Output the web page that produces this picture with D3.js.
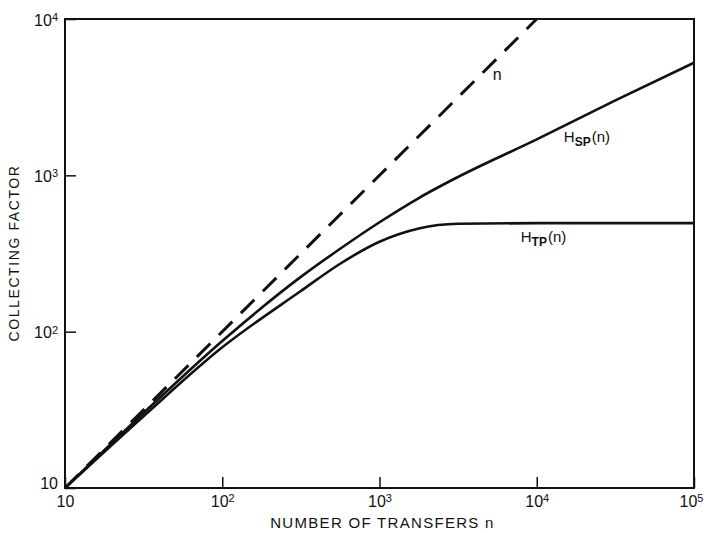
<!DOCTYPE html>
<style>
body { margin: 0; background-color: #FFFFFF; }
text { font-family: "Liberation Sans", Arial, sans-serif; fill: #111; }
</style>
<svg width="704" height="533"></svg>
<script src="https://d3js.org/d3.v7.min.js"></script>
<script>

// number of transfers (x) and the collecting factors
var transfers = [10, 31.6, 100, 316, 562, 1000, 1778, 3162, 10000, 31623, 100000];
var hSP = [10, 30.2, 87.1, 224, 339, 501, 716, 977, 1698, 3020, 5248];
var hTP = [10, 28.8, 79.4, 182, 272, 376, 457, 490, 495, 495, 495];
var nLine = [10, 10000];          // the diagonal y = n
var xTicks = [10, 100, 1000, 10000, 100000];
var yTicks = [10, 100, 1000, 10000];

var svg = d3.select("svg"),
    margin = {top: 19, right: 10, bottom: 45, left: 65},
    width = +svg.attr("width") - margin.left - margin.right,
    height = +svg.attr("height") - margin.top - margin.bottom,
    g = svg.append("g").attr("transform", "translate(" + margin.left + "," + margin.top + ")");

var x = d3.scaleLog().domain([10, 100000]).range([0, width]);
var y = d3.scaleLog().domain([10, 10000]).range([height, 0]);

// tick label "10" with a raised exponent
function powLabel(sel) {
  sel.each(function(d) {
    var t = d3.select(this).text(null);
    var e = Math.round(Math.log10(d));
    t.append("tspan").text("10");
    if (e > 1) t.append("tspan").attr("dy", "-0.42em").attr("font-size", "11px").text(e);
  });
}

g.append("clipPath").attr("id", "clip")
  .append("rect").attr("width", width).attr("height", height);

var xAxis = g.append("g")
    .attr("transform", "translate(0," + height + ")")
    .call(d3.axisBottom(x).tickValues(xTicks).tickSize(-11).tickPadding(7));
xAxis.select(".domain").remove();
xAxis.attr("font-size", null).attr("font-family", null);
xAxis.selectAll("line").attr("stroke", "#111").attr("stroke-width", 1.5);
xAxis.selectAll("text").attr("font-size", "16px").attr("dy", "0.72em")
    .attr("dx", function(d) { return d === 100000 ? -3 : 0; })
    .call(powLabel);

var yAxis = g.append("g")
    .call(d3.axisLeft(y).tickValues(yTicks).tickSize(-11).tickPadding(7));
yAxis.select(".domain").remove();
yAxis.attr("font-size", null).attr("font-family", null);
yAxis.selectAll("text").attr("font-size", "16px")
    .attr("dy", function(d) { return d === 10 ? "0.05em" : "0.38em"; })
    .call(powLabel);
yAxis.selectAll("line").attr("stroke", "#111").attr("stroke-width", 1.5);

// frame
g.append("rect")
    .attr("width", width).attr("height", height)
    .attr("fill", "none").attr("stroke", "#111").attr("stroke-width", 2);

var line = d3.line()
    .x(function(d) { return x(d[0]); })
    .y(function(d) { return y(d[1]); })
    .curve(d3.curveMonotoneX);

var curves = g.append("g").attr("clip-path", "url(#clip)");

curves.append("path")
    .datum(nLine.map(function(v) { return [v, v]; }))
    .attr("d", line)
    .attr("fill", "none").attr("stroke", "#111")
    .attr("stroke-width", 3).attr("stroke-dasharray", "19,12");

curves.append("path")
    .datum(transfers.map(function(v, i) { return [v, hSP[i]]; }))
    .attr("d", line)
    .attr("fill", "none").attr("stroke", "#111").attr("stroke-width", 2.6);

curves.append("path")
    .datum(transfers.map(function(v, i) { return [v, hTP[i]]; }))
    .attr("d", line)
    .attr("fill", "none").attr("stroke", "#111").attr("stroke-width", 2.6);

// curve labels
g.append("text")
    .attr("x", x(5250)).attr("y", y(4074))
    .attr("font-size", "16px").text("n");

function hLabel(px, py, sub) {
  var t = g.append("text").attr("x", x(px)).attr("y", y(py)).attr("font-size", "15px");
  t.append("tspan").text("H");
  t.append("tspan").attr("dy", 4).attr("font-size", "12px").attr("font-weight", "bold").text(sub);
  t.append("tspan").attr("dy", -4).attr("dx", 1).text("(n)");
}
hLabel(14860, 1637, "SP");
hLabel(7906, 375, "TP");

// axis titles
svg.append("text")
    .attr("x", margin.left + width / 2 + 3)
    .attr("y", 528)
    .attr("text-anchor", "middle")
    .attr("font-size", "15px")
    .attr("letter-spacing", "1.3px")
    .text("NUMBER OF TRANSFERS n");

svg.append("text")
    .attr("transform", "translate(19,253) rotate(-90)")
    .attr("text-anchor", "middle")
    .attr("font-size", "14px")
    .attr("letter-spacing", "1.6px")
    .text("COLLECTING FACTOR");

</script>
